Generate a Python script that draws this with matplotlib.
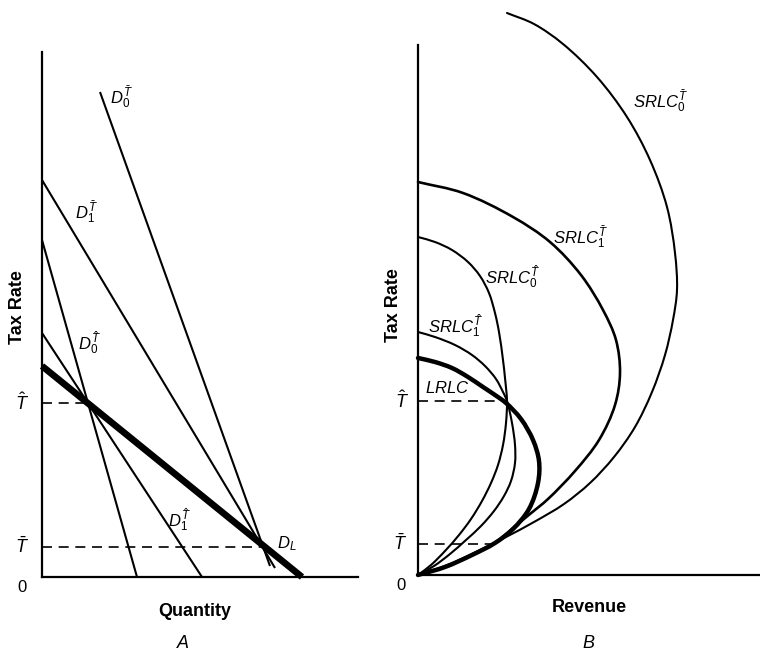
import numpy as np
import matplotlib
matplotlib.use("Agg")
import matplotlib.pyplot as plt
from matplotlib.path import Path
from matplotlib.patches import PathPatch

plt.rcParams['font.family'] = ['Liberation Sans', 'DejaVu Sans']
plt.rcParams['mathtext.fontset'] = 'custom'
plt.rcParams['mathtext.rm'] = 'Liberation Sans'
plt.rcParams['mathtext.it'] = 'Liberation Sans:italic'
plt.rcParams['mathtext.bf'] = 'Liberation Sans:bold'

# ---------------- Panel A: demand lines (quantity, tax rate) ----------------
T_HAT = 174
T_BAR = 30

D0_Tbar_q = [58, 228]
D0_Tbar_t = [485, 11]
D1_Tbar_q = [0, 233]
D1_Tbar_t = [397, 9]
D0_That_q = [0, 95]
D0_That_t = [337, 0]
D1_That_q = [0, 160]
D1_That_t = [244, 0]
DL_q = [0, 260]
DL_t = [211, 0]
DL_at_That_q = 46
DL_at_Tbar_q = 222

# ---------------- Panel B: revenue curves (revenue, tax rate) ----------------
TB_HAT = 174
TB_BAR = 31
LRLC_at_That_R = 88
LRLC_at_Tbar_R = 77

SRLC0_Tbar_R = [89, 116, 145, 179, 209, 232, 249, 257, 259, 255, 247, 234, 217, 196, 172, 146, 116, 88, 60, 32, 0]
SRLC0_Tbar_t = [562, 551, 531, 498, 458, 415, 368, 322, 285, 255, 220, 183, 148, 118, 92, 71, 53, 38, 24, 11, 0]

SRLC1_Tbar_R = [0, 45, 95, 132, 163, 185, 198, 202, 197, 181, 157, 130, 112, 95, 77, 54, 27, 0]
SRLC1_Tbar_t = [393, 382, 358, 333, 300, 265, 235, 202, 170, 135, 104, 76, 61, 47, 32, 20, 8, 0]

SRLC0_That_R = [0, 17, 34, 50, 62, 71, 77, 81, 85, 87, 89, 88, 85, 80, 73, 64, 53, 41, 27, 13, 0]
SRLC0_That_t = [338, 333, 325, 313, 299, 282, 262, 243, 215, 197, 174, 152, 130, 110, 92, 74, 56, 40, 24, 10, 0]

SRLC1_That_R = [0, 17, 37, 54, 67, 78, 85, 89, 94, 97, 97, 93, 86, 76, 63, 48, 32, 16, 0]
SRLC1_That_t = [243, 238, 230, 220, 209, 196, 183, 174, 152, 130, 112, 94, 79, 64, 49, 35, 21, 9, 0]

LRLC_R = [0, 17, 34, 50, 65, 77, 88, 103, 115, 121, 120, 111, 95, 77, 54, 27, 0]
LRLC_t = [217, 213, 207, 198, 188, 180, 172, 156, 135, 114, 92, 66, 46, 32, 20, 8, 0]


def smooth_path(xs, ys, alpha=0.5):
    """Centripetal Catmull-Rom spline through the points, as cubic Bezier segments."""
    pts = np.column_stack([xs, ys]).astype(float)
    n = len(pts)
    ext = np.vstack([2 * pts[0] - pts[1], pts, 2 * pts[-1] - pts[-2]])
    verts = [pts[0]]
    codes = [Path.MOVETO]
    for i in range(n - 1):
        p0, p1, p2, p3 = ext[i], ext[i + 1], ext[i + 2], ext[i + 3]
        d1 = max(np.linalg.norm(p1 - p0), 1e-6) ** alpha
        d2 = max(np.linalg.norm(p2 - p1), 1e-6) ** alpha
        d3 = max(np.linalg.norm(p3 - p2), 1e-6) ** alpha
        b1 = (d1 ** 2 * p2 - d2 ** 2 * p0 + (2 * d1 ** 2 + 3 * d1 * d2 + d2 ** 2) * p1) / (3 * d1 * (d1 + d2))
        b2 = (d3 ** 2 * p1 - d2 ** 2 * p3 + (2 * d3 ** 2 + 3 * d3 * d2 + d2 ** 2) * p2) / (3 * d3 * (d3 + d2))
        verts += [b1, b2, p2]
        codes += [Path.CURVE4] * 3
    return Path(verts, codes)


def draw_curve(ax, xs, ys, lw):
    patch = PathPatch(smooth_path(xs, ys), facecolor='none', edgecolor='black',
                      lw=lw, capstyle='round', joinstyle='round', clip_on=False)
    ax.add_patch(patch)


fig = plt.figure(figsize=(7.6, 6.52), dpi=100)
W, H = 760, 652
axA = fig.add_axes([42 / W, (H - 577) / H, 316 / W, 525 / H])
axB = fig.add_axes([418 / W, (H - 575) / H, 342 / W, 530 / H])

for ax in (axA, axB):
    ax.spines['top'].set_visible(False)
    ax.spines['right'].set_visible(False)
    ax.spines['left'].set_linewidth(1.6)
    ax.spines['bottom'].set_linewidth(1.6)
    ax.set_xticks([])
    ax.set_yticks([])
    ax.patch.set_alpha(0)

axA.set_xlim(0, 316)
axA.set_ylim(0, 525)
axB.set_xlim(0, 342)
axB.set_ylim(0, 530)

thin = 1.5
# Panel A lines
for q, t in [(D0_Tbar_q, D0_Tbar_t), (D1_Tbar_q, D1_Tbar_t),
             (D0_That_q, D0_That_t), (D1_That_q, D1_That_t)]:
    axA.plot(q, t, color='black', lw=thin, clip_on=False, solid_capstyle='butt')
axA.plot(DL_q, DL_t, color='black', lw=4.8, clip_on=False, solid_capstyle='butt')

axA.plot([0, DL_at_That_q], [T_HAT, T_HAT], color='black', lw=1.2, dashes=(6, 4))
axA.plot([0, DL_at_Tbar_q], [T_BAR, T_BAR], color='black', lw=1.2, dashes=(6, 4))

fsl = 12
axA.text(68, 480, r'$D_0^{\bar{T}}$', fontsize=fsl, ha='left', va='center')
axA.text(33, 365, r'$D_1^{\bar{T}}$', fontsize=fsl, ha='left', va='center')
axA.text(36, 234, r'$D_0^{\hat{T}}$', fontsize=fsl, ha='left', va='center')
axA.text(126, 57, r'$D_1^{\hat{T}}$', fontsize=fsl, ha='left', va='center')
axA.text(235, 33, r'$D_L$', fontsize=fsl, ha='left', va='center')

axA.text(-20, T_HAT, r'$\hat{T}$', fontsize=13, ha='center', va='center')
axA.text(-20, T_BAR, r'$\bar{T}$', fontsize=13, ha='center', va='center')
axA.text(-20, -10, '0', fontsize=12, ha='center', va='center')
axA.text(-25, 270, 'Tax Rate', fontsize=13, fontweight='bold', rotation=90,
         ha='center', va='center')
axA.text(153, -35, 'Quantity', fontsize=13, fontweight='bold', ha='center', va='center')
axA.text(141, -66, 'A', fontsize=13, style='italic', ha='center', va='center')

# Panel B curves
draw_curve(axB, SRLC0_Tbar_R, SRLC0_Tbar_t, thin)
draw_curve(axB, SRLC1_Tbar_R, SRLC1_Tbar_t, thin + 0.4)
draw_curve(axB, SRLC0_That_R, SRLC0_That_t, thin)
draw_curve(axB, SRLC1_That_R, SRLC1_That_t, thin)
draw_curve(axB, LRLC_R, LRLC_t, 3.2)

axB.plot([0, LRLC_at_That_R], [TB_HAT, TB_HAT], color='black', lw=1.2, dashes=(6, 4))
axB.plot([0, LRLC_at_Tbar_R], [TB_BAR, TB_BAR], color='black', lw=1.2, dashes=(6, 4))

axB.text(215, 474, r'$SRLC_0^{\bar{T}}$', fontsize=fsl, ha='left', va='center')
axB.text(135, 338, r'$SRLC_1^{\bar{T}}$', fontsize=fsl, ha='left', va='center')
axB.text(67, 298, r'$SRLC_0^{\hat{T}}$', fontsize=fsl, ha='left', va='center')
axB.text(10, 249, r'$SRLC_1^{\hat{T}}$', fontsize=fsl, ha='left', va='center')
axB.text(7, 187, r'$LRLC$', fontsize=fsl, ha='left', va='center')

axB.text(-16, TB_HAT, r'$\hat{T}$', fontsize=13, ha='center', va='center')
axB.text(-18, TB_BAR, r'$\bar{T}$', fontsize=13, ha='center', va='center')
axB.text(-17, -10, '0', fontsize=12, ha='center', va='center')
axB.text(-25, 270, 'Tax Rate', fontsize=13, fontweight='bold', rotation=90,
         ha='center', va='center')
axB.text(171, -32, 'Revenue', fontsize=13, fontweight='bold', ha='center', va='center')
axB.text(170, -68, 'B', fontsize=13, style='italic', ha='center', va='center')

fig.savefig('out.png', dpi=100)
